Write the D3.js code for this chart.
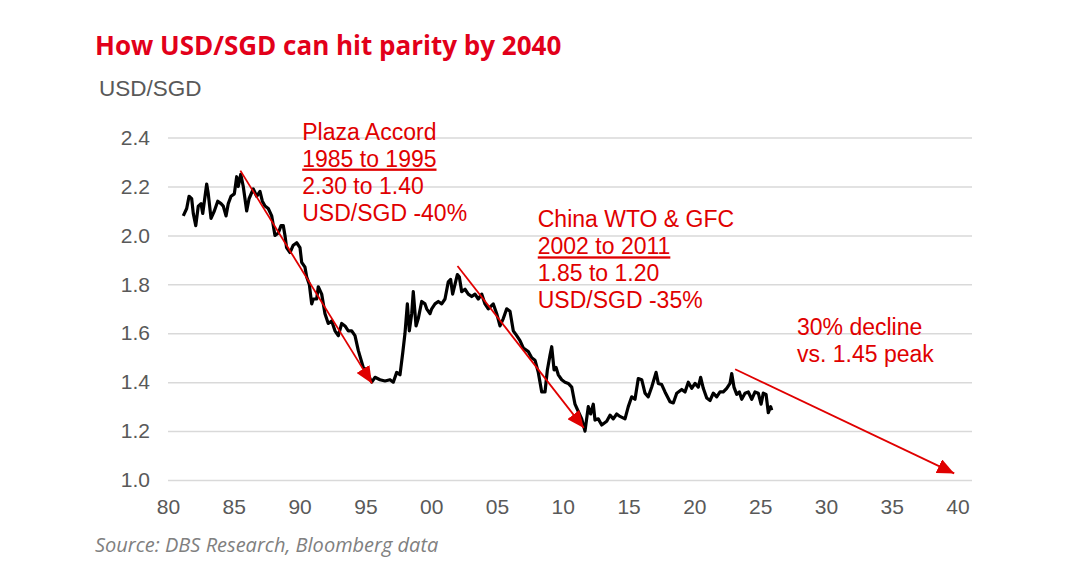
<!DOCTYPE html>
<html lang="en">
<head>
<meta charset="UTF-8">
<title>How USD/SGD can hit parity by 2040</title>
<script src="https://cdn.jsdelivr.net/npm/d3@7"></script>
<style>
    body { margin: 0; background: #fff; }
    .grid line { stroke: #d9d9d9; stroke-width: 1.5; }
    .grid path { display: none; }
    .tick text { font-family: "Liberation Sans", Arial, sans-serif; font-size: 21px; fill: #595959; }
    .note { font-family: "Liberation Sans", Arial, sans-serif; font-size: 23px; fill: #e00000; }
</style>
</head>
<body>
<svg width="1080" height="573"></svg>
<script>
// monthly-ish USD/SGD readings (decimal year, rate)
const years = [
    1981.16, 1981.42, 1981.60, 1981.80, 1981.92, 1982.11, 1982.30, 1982.51, 1982.64, 1982.94,
    1983.06, 1983.27, 1983.52, 1983.78, 1984.03, 1984.20, 1984.41, 1984.58, 1984.79, 1985.04,
    1985.22, 1985.34, 1985.53, 1985.72, 1985.85, 1985.98, 1986.16, 1986.48, 1986.74, 1986.99,
    1987.17, 1987.37, 1987.62, 1987.88, 1988.13, 1988.38, 1988.59, 1988.76, 1988.89, 1989.01,
    1989.27, 1989.52, 1989.78, 1990.03, 1990.16, 1990.41, 1990.54, 1990.74, 1990.92, 1991.04,
    1991.30, 1991.42, 1991.68, 1991.93, 1992.18, 1992.44, 1992.69, 1992.94, 1993.20, 1993.45,
    1993.70, 1993.96, 1994.21, 1994.46, 1994.84, 1995.10, 1995.30, 1995.48, 1995.73, 1996.11,
    1996.49, 1996.87, 1997.12, 1997.38, 1997.63, 1997.84, 1998.01, 1998.19, 1998.34, 1998.52,
    1998.64, 1998.85, 1999.02, 1999.28, 1999.53, 1999.66, 1999.91, 2000.04, 2000.29, 2000.54,
    2000.80, 2001.05, 2001.30, 2001.48, 2001.63, 2001.81, 2001.99, 2002.14, 2002.32, 2002.57,
    2002.82, 2003.08, 2003.33, 2003.58, 2003.84, 2004.09, 2004.34, 2004.72, 2004.98, 2005.23,
    2005.48, 2005.74, 2005.99, 2006.24, 2006.50, 2006.75, 2007.00, 2007.38, 2007.64, 2007.89,
    2008.14, 2008.40, 2008.65, 2008.83, 2009.03, 2009.16, 2009.34, 2009.49, 2009.66, 2009.92,
    2010.17, 2010.42, 2010.68, 2010.93, 2011.18, 2011.44, 2011.69, 2011.94, 2012.12, 2012.32,
    2012.45, 2012.70, 2012.96, 2013.34, 2013.59, 2013.84, 2014.10, 2014.35, 2014.73, 2014.98,
    2015.24, 2015.49, 2015.74, 2016.00, 2016.25, 2016.50, 2016.76, 2017.09, 2017.26, 2017.52,
    2017.77, 2018.15, 2018.40, 2018.66, 2019.04, 2019.29, 2019.54, 2019.80, 2020.05, 2020.30,
    2020.48, 2020.68, 2020.94, 2021.19, 2021.44, 2021.70, 2021.95, 2022.20, 2022.46, 2022.71,
    2022.84, 2023.01, 2023.22, 2023.42, 2023.60, 2023.85, 2024.10, 2024.36, 2024.61, 2024.86,
    2025.07, 2025.24, 2025.45, 2025.62, 2025.80, 2025.88
];
const usdsgd = [
    2.08, 2.11, 2.16, 2.15, 2.09, 2.04, 2.12, 2.13, 2.09, 2.21,
    2.17, 2.07, 2.10, 2.14, 2.13, 2.12, 2.08, 2.13, 2.16, 2.17,
    2.24, 2.20, 2.25, 2.20, 2.15, 2.10, 2.15, 2.19, 2.16, 2.18,
    2.14, 2.12, 2.11, 2.08, 2.00, 2.01, 2.04, 2.04, 2.00, 1.95,
    1.93, 1.96, 1.97, 1.95, 1.89, 1.87, 1.83, 1.80, 1.72, 1.74,
    1.74, 1.79, 1.76, 1.68, 1.64, 1.65, 1.61, 1.59, 1.64, 1.63,
    1.61, 1.61, 1.59, 1.53, 1.46, 1.45, 1.42, 1.40, 1.42, 1.41,
    1.405, 1.41, 1.40, 1.44, 1.43, 1.52, 1.60, 1.72, 1.61, 1.68,
    1.77, 1.63, 1.66, 1.73, 1.72, 1.70, 1.68, 1.70, 1.72, 1.73,
    1.72, 1.74, 1.81, 1.82, 1.76, 1.80, 1.84, 1.83, 1.77, 1.78,
    1.76, 1.75, 1.76, 1.74, 1.76, 1.72, 1.70, 1.72, 1.68, 1.63,
    1.66, 1.70, 1.69, 1.61, 1.59, 1.57, 1.54, 1.525, 1.50, 1.49,
    1.44, 1.36, 1.36, 1.45, 1.51, 1.545, 1.45, 1.46, 1.43, 1.41,
    1.40, 1.395, 1.38, 1.31, 1.28, 1.25, 1.20, 1.30, 1.27, 1.31,
    1.245, 1.25, 1.225, 1.24, 1.265, 1.25, 1.27, 1.26, 1.25, 1.30,
    1.34, 1.33, 1.415, 1.41, 1.355, 1.34, 1.38, 1.44, 1.395, 1.39,
    1.36, 1.32, 1.315, 1.355, 1.37, 1.36, 1.40, 1.375, 1.395, 1.38,
    1.42, 1.375, 1.335, 1.325, 1.355, 1.34, 1.36, 1.36, 1.375, 1.395,
    1.435, 1.38, 1.35, 1.36, 1.33, 1.355, 1.36, 1.33, 1.36, 1.355,
    1.31, 1.355, 1.35, 1.275, 1.30, 1.285
];

const yTicks = [1.0, 1.2, 1.4, 1.6, 1.8, 2.0, 2.2, 2.4];
const xTicks = [1980, 1985, 1990, 1995, 2000, 2005, 2010, 2015, 2020, 2025, 2030, 2035, 2040];

// trend arrows: [startYear, startRate, endYear, endRate]
const arrows = [
    [1985.5, 2.265, 1995.5, 1.395],
    [2002.0, 1.875, 2011.6, 1.213],
    [2023.1, 1.453, 2039.75, 1.027]
];

// annotation blocks: anchor year, rate of first baseline, lines (underlined flag)
const notes = [
    { year: 1990.2, rate: 2.392, lines: [["Plaza Accord", false], ["1985 to 1995", true], ["2.30 to 1.40", false], ["USD/SGD -40%", false]] },
    { year: 2008.1, rate: 2.033, lines: [["China WTO & GFC", false], ["2002 to 2011", true], ["1.85 to 1.20", false], ["USD/SGD -35%", false]] },
    { year: 2027.8, rate: 1.593, lines: [["30% decline", false], ["vs. 1.45 peak", false]] }
];

const title = "How USD/SGD can hit parity by 2040";
const yLabel = "USD/SGD";
const source = "Source: DBS Research, Bloomberg data";

const svg = d3.select("svg");
const red = "#e00000";

const x = d3.scaleLinear().domain([1980, 2041.1]).range([168, 972]);
const y = d3.scaleLinear().domain([1.0, 2.4]).range([480, 137.6]);

svg.append("text")
    .attr("x", 95).attr("y", 55)
    .style("font-family", "'Open Sans', sans-serif")
    .style("font-weight", 700)
    .style("font-size", "26px")
    .style("fill", "#e2001a")
    .text(title);

svg.append("text")
    .attr("x", 99).attr("y", 96)
    .style("font-family", "'Liberation Sans', Arial, sans-serif")
    .style("font-size", "22.5px")
    .style("fill", "#595959")
    .text(yLabel);

// horizontal gridlines + y labels
svg.append("g").attr("class", "grid")
    .attr("transform", `translate(${x(1980)},0)`)
    .call(d3.axisLeft(y).tickValues(yTicks).tickFormat(d3.format(".1f"))
        .tickSize(-(x(2041.1) - x(1980))).tickPadding(18));

// x labels only
const xa = svg.append("g").attr("class", "grid")
    .attr("transform", `translate(0,${y(1.0)})`)
    .call(d3.axisBottom(x).tickValues(xTicks)
        .tickFormat(d => String(d % 100).padStart(2, "0"))
        .tickSize(0).tickPadding(19));
xa.selectAll("line").remove();

// the series
const series = years.map((yr, i) => [yr, usdsgd[i]]);
svg.append("path")
    .datum(series)
    .attr("fill", "none")
    .attr("stroke", "#000")
    .attr("stroke-width", 3.2)
    .attr("stroke-linejoin", "round")
    .attr("d", d3.line().x(d => x(d[0])).y(d => y(d[1])));

// arrowhead
svg.append("defs").append("marker")
    .attr("id", "head")
    .attr("markerUnits", "userSpaceOnUse")
    .attr("viewBox", "0 0 17 15")
    .attr("markerWidth", 17).attr("markerHeight", 15)
    .attr("refX", 17).attr("refY", 7.5)
    .attr("orient", "auto")
    .append("path")
    .attr("d", "M0,0 L17,7.5 L0,15 Z")
    .attr("fill", red);

svg.selectAll("line.arrow")
    .data(arrows)
    .join("line").attr("class", "arrow")
    .attr("x1", d => x(d[0])).attr("y1", d => y(d[1]))
    .attr("x2", d => x(d[2])).attr("y2", d => y(d[3]))
    .attr("stroke", red)
    .attr("stroke-width", 1.8)
    .attr("marker-end", "url(#head)");

// annotations
notes.forEach(n => {
    const t = svg.append("text").attr("class", "note")
        .attr("x", x(n.year)).attr("y", y(n.rate));
    n.lines.forEach(([s, u], i) => {
        t.append("tspan")
            .attr("x", x(n.year))
            .attr("dy", i === 0 ? 0 : 27)
            .style("text-decoration", u ? "underline" : null)
            .text(s);
    });
});

svg.append("text")
    .attr("x", 95).attr("y", 552)
    .style("font-family", "'Open Sans', sans-serif")
    .style("font-style", "italic")
    .style("font-size", "20px")
    .style("fill", "#808080")
    .text(source);
</script>
</body>
</html>
